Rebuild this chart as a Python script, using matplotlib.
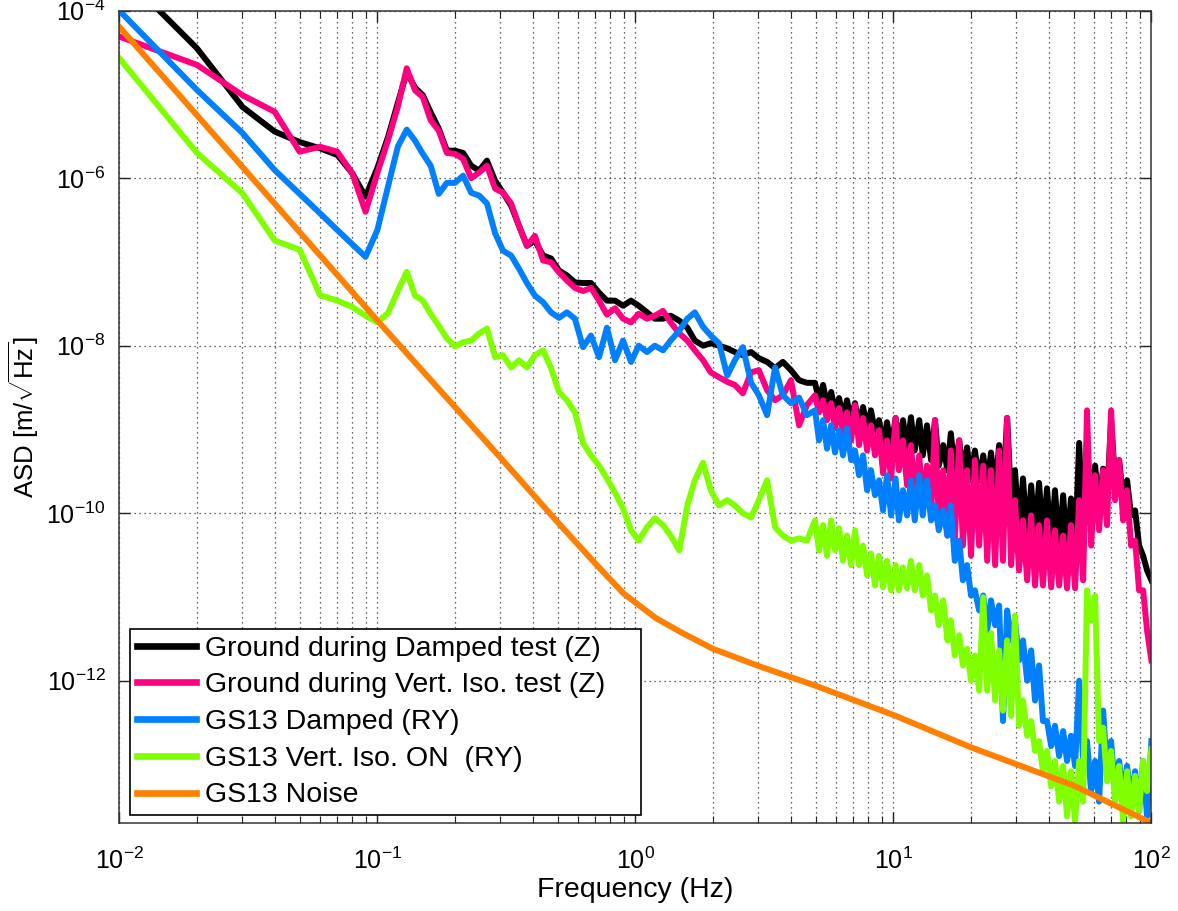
import numpy as np
import matplotlib
matplotlib.use("Agg")
import matplotlib.pyplot as plt
from matplotlib.ticker import LogLocator, NullLocator, FixedLocator, LogFormatterSciNotation

plt.rcParams['font.family'] = ['Liberation Sans', 'DejaVu Sans']
plt.rcParams['mathtext.fontset'] = 'custom'
plt.rcParams['mathtext.rm'] = 'Liberation Sans'
plt.rcParams['mathtext.it'] = 'Liberation Sans:italic'
plt.rcParams['mathtext.bf'] = 'Liberation Sans:bold'

# ---- frequency axis (Hz) ----
freq_low = [0.01, 0.02, 0.03, 0.04, 0.05, 0.06, 0.07, 0.08, 0.09, 0.10, 0.11, 0.12, 0.13]
freq_mid = [0.140, 0.150, 0.161, 0.173, 0.186, 0.200, 0.215, 0.231, 0.248, 0.266,
            0.286, 0.307, 0.330, 0.354, 0.380, 0.408, 0.439, 0.471, 0.506, 0.543,
            0.583, 0.627, 0.673, 0.723, 0.776, 0.834, 0.896, 0.962, 1.03, 1.11,
            1.19, 1.28, 1.37, 1.48, 1.59, 1.70, 1.83, 1.96, 2.11, 2.27,
            2.43, 2.61, 2.81, 3.01, 3.24, 3.48, 3.73, 4.01, 4.31, 4.62]
freq_high = [4.97, 5.15, 5.34, 5.53, 5.74, 5.94, 6.16, 6.38, 6.61, 6.86,
             7.10, 7.36, 7.63, 7.91, 8.19, 8.49, 8.80, 9.12, 9.45, 9.80,
             10.2, 10.5, 10.9, 11.3, 11.7, 12.1, 12.6, 13.0, 13.5, 14.0,
             14.5, 15.0, 15.6, 16.2, 16.7, 17.3, 18.0, 18.6, 19.3, 20.0,
             20.7, 21.5, 22.3, 23.1, 23.9, 24.8, 25.7, 26.6, 27.6, 28.6,
             29.6, 30.7, 31.8, 33.0, 34.2, 35.4, 36.7, 38.0, 39.4, 40.9,
             42.3, 43.9, 45.5, 47.1, 48.8, 50.6, 52.5, 54.4, 56.3, 58.4,
             60.5, 62.7, 65.0, 67.3, 69.8, 72.3, 75.0, 77.7, 80.5, 83.4,
             86.5, 89.6, 92.9, 96.2, 100.0]

# ---- ASD [m/sqrt(Hz)] ----
ground_damped = [
    3.0e-4, 3.55e-5, 7.1e-6, 3.6e-6, 2.7e-6, 2.27e-6, 1.89e-6, 1.14e-6, 6.0e-7, 1.32e-6, 3.1e-6, 7.9e-6, 1.85e-5,
    1.2e-5, 9.8e-6, 6.1e-6, 3.9e-6, 2.13e-6, 2.13e-6, 2.0e-6, 1.41e-6, 1.23e-6, 1.62e-6,
    9.3e-7, 6.7e-7, 4.7e-7, 2.7e-7, 1.56e-7, 1.79e-7, 1.19e-7, 1.1e-7, 7.9e-8, 6.9e-8,
    5.7e-8, 5.6e-8, 5.6e-8, 4.3e-8, 3.45e-8, 3.45e-8, 3.0e-8, 3.45e-8, 3.0e-8, 2.5e-8,
    2.1e-8, 2.1e-8, 2.28e-8, 1.99e-8, 1.64e-8, 1.15e-8, 1.0e-8, 1.07e-8, 1.0e-8, 9.3e-9,
    8.4e-9, 7.7e-9, 8.4e-9, 7.1e-9, 6.4e-9, 5.4e-9, 6.4e-9, 5.1e-9, 3.87e-9, 3.6e-9,
    3.6e-9, 2.23e-9, 3.4e-9, 1.95e-9, 2.8e-9, 1.6e-9, 2.37e-9, 1.37e-9, 2.23e-9, 1.29e-9,
    2.06e-9, 1.12e-9, 1.85e-9, 1.03e-9, 1.69e-9, 9.3e-10, 1.29e-9, 6.5e-10, 1.22e-9, 5.9e-10,
    1.37e-9, 6.5e-10, 1.29e-9, 5.6e-10, 1.4e-9, 5.6e-10, 1.29e-9, 4.9e-10, 1.12e-9, 4.3e-10,
    1.29e-9, 3.7e-10, 6.5e-10, 3.26e-10, 9.0e-10, 3.26e-10, 7.4e-10, 2.84e-10, 6.1e-10, 2.47e-10,
    5.6e-10, 2.47e-10, 4.9e-10, 2.15e-10, 5.3e-10, 1.88e-10, 6.5e-10, 1.64e-10, 1.37e-9, 1.43e-10,
    3.26e-10, 6.25e-11, 2.6e-10, 4.7e-11, 2.15e-10, 5.4e-11, 2.3e-10, 4.7e-11, 1.98e-10, 4.1e-11,
    1.88e-10, 3.8e-11, 1.64e-10, 3.6e-11, 1.5e-10, 3.6e-11, 6.9e-10, 4.7e-11, 7.4e-10, 8.2e-11,
    3.7e-10, 1.24e-10, 3.4e-10, 1.43e-10, 1.29e-9, 2.47e-10, 4.3e-10, 1.43e-10, 2.47e-10, 9.4e-11,
    1.08e-10, 4.1e-11, 3.1e-11, 2.08e-11, 1.58e-11]

ground_vert_iso = [
    4.9e-5, 2.25e-5, 9.8e-6, 6.2e-6, 2.07e-6, 2.37e-6, 2.07e-6, 1.14e-6, 3.97e-7, 1.15e-6, 2.85e-6, 7.1e-6, 2.05e-5,
    1.12e-5, 9.3e-6, 4.9e-6, 3.7e-6, 2.0e-6, 1.95e-6, 1.7e-6, 1.0e-6, 1.17e-6, 1.41e-6,
    7.5e-7, 6.7e-7, 5.0e-7, 2.7e-7, 1.56e-7, 2.05e-7, 1.04e-7, 9.9e-8, 7.5e-8, 6.0e-8,
    4.9e-8, 4.5e-8, 4.9e-8, 3.45e-8, 2.35e-8, 2.8e-8, 2.1e-8, 1.9e-8, 2.4e-8, 2.1e-8,
    2.28e-8, 2.6e-8, 1.9e-8, 1.4e-8, 1.15e-8, 8.8e-9, 6.7e-9, 4.8e-9, 4.2e-9, 3.7e-9,
    3.4e-9, 2.7e-9, 4.8e-9, 5.1e-9, 2.94e-9, 2.23e-9, 2.56e-9, 3.87e-9, 1.12e-9, 1.95e-9,
    2.56e-9, 1.6e-9, 2.23e-9, 1.29e-9, 2.06e-9, 1.03e-9, 1.8e-9, 9.3e-10, 1.6e-9, 7.4e-10,
    1.95e-9, 6.5e-10, 1.37e-9, 5.6e-10, 1.12e-9, 4.9e-10, 9.8e-10, 3.0e-10, 7.4e-10, 2.6e-10,
    1.37e-9, 3.26e-10, 7.4e-10, 2.15e-10, 6.5e-10, 1.64e-10, 4.9e-10, 1.24e-10, 3.7e-10, 9.4e-11,
    1.29e-9, 8.2e-11, 3.26e-10, 5.4e-11, 5.6e-10, 4.7e-11, 7.4e-10, 4.1e-11, 3.26e-10, 3.1e-11,
    4.3e-10, 4.1e-11, 3.7e-10, 2.7e-11, 3.26e-10, 2.4e-11, 5.6e-10, 2.7e-11, 1.37e-9, 2.4e-11,
    1.43e-10, 2.08e-11, 8.2e-11, 1.58e-11, 9.4e-11, 1.37e-11, 7.2e-11, 1.37e-11, 8.2e-11, 1.3e-11,
    6.25e-11, 1.37e-11, 5.4e-11, 1.27e-11, 7.2e-11, 1.27e-11, 1.43e-10, 1.58e-11, 1.69e-9, 4.1e-11,
    2.84e-10, 6.25e-11, 3.26e-10, 7.2e-11, 1.69e-9, 1.43e-10, 4.3e-10, 8.2e-11, 1.88e-10, 4.1e-11,
    4.7e-11, 1.2e-11, 1.2e-11, 4.0e-12, 1.75e-12]

gs13_damped = [
    1.0e-4, 1.13e-5, 3.46e-6, 1.25e-6, 6.5e-7, 3.8e-7, 2.4e-7, 1.62e-7, 1.15e-7, 2.4e-7, 7.9e-7, 2.37e-6, 3.8e-6,
    2.8e-6, 1.95e-6, 1.41e-6, 6.5e-7, 8.8e-7, 8.8e-7, 1.07e-6, 6.7e-7, 6.2e-7, 5.0e-7,
    2.2e-7, 1.36e-7, 1.19e-7, 8.3e-8, 5.6e-8, 3.96e-8, 3.3e-8, 2.5e-8, 2.15e-8, 2.5e-8,
    2.1e-8, 9.6e-9, 1.32e-8, 7.3e-9, 1.64e-8, 6.7e-9, 1.15e-8, 6.4e-9, 1.0e-8, 8.4e-9,
    1.0e-8, 8.8e-9, 1.15e-8, 1.51e-8, 2.1e-8, 2.5e-8, 1.68e-8, 1.32e-8, 1.07e-8, 4.4e-9,
    6.7e-9, 9.6e-9, 3.6e-9, 2.56e-9, 1.48e-9, 5.5e-9, 2.56e-9, 2.06e-9, 2.4e-9, 1.48e-9,
    1.69e-9, 7.4e-10, 1.29e-9, 5.9e-10, 1.12e-9, 5.3e-10, 9.8e-10, 4.9e-10, 1.03e-9, 4.3e-10,
    5.6e-10, 2.84e-10, 4.9e-10, 1.88e-10, 3.26e-10, 1.64e-10, 2.47e-10, 1.08e-10, 2.84e-10, 9.4e-11,
    2.6e-10, 8.2e-11, 1.88e-10, 9.4e-11, 2.47e-10, 8.2e-11, 2.84e-10, 9.4e-11, 2.47e-10, 8.2e-11,
    1.24e-10, 6.25e-11, 1.08e-10, 5.4e-11, 1.24e-10, 2.7e-11, 4.7e-11, 1.58e-11, 2.4e-11, 1.04e-11,
    1.2e-11, 6.9e-12, 1.04e-11, 4.0e-12, 9.1e-12, 4.6e-12, 7.9e-12, 3.3e-13, 6.9e-12, 3.03e-12,
    5.25e-12, 1.75e-12, 3.03e-12, 1.0e-12, 2.3e-12, 5.8e-13, 1.52e-12, 3.3e-13, 3.3e-13, 1.66e-13,
    2.9e-13, 1.26e-13, 2.5e-13, 1.1e-13, 2.2e-13, 9.6e-14, 1.0e-12, 1.1e-13, 1.9e-13, 4.8e-14,
    1.1e-13, 3.6e-14, 4.4e-13, 8.3e-14, 1.9e-13, 4.8e-14, 1.1e-13, 4.2e-14, 9.6e-14, 3.6e-14,
    8.3e-14, 2.8e-14, 1.1e-13, 2.4e-14, 1.9e-13]

gs13_vert_iso = [
    2.7e-5, 2.0e-6, 6.6e-7, 1.8e-7, 1.4e-7, 4.0e-8, 3.45e-8, 2.9e-8, 2.28e-8, 1.9e-8, 2.45e-8, 4.5e-8, 7.6e-8,
    3.96e-8, 3.45e-8, 2.4e-8, 1.73e-8, 1.22e-8, 9.8e-9, 1.1e-8, 1.15e-8, 1.4e-8, 1.6e-8,
    7.3e-9, 7.7e-9, 5.5e-9, 6.7e-9, 5.5e-9, 7.7e-9, 8.8e-9, 5.4e-9, 2.8e-9, 2.23e-9,
    1.6e-9, 6.9e-10, 4.9e-10, 3.7e-10, 2.6e-10, 1.75e-10, 1.14e-10, 6.25e-11, 4.7e-11, 6.8e-11,
    8.7e-11, 7.2e-11, 5.4e-11, 3.6e-11, 1.24e-10, 2.47e-10, 4.0e-10, 1.88e-10, 1.24e-10, 1.43e-10,
    1.24e-10, 1.0e-10, 8.9e-11, 1.43e-10, 2.47e-10, 6.8e-11, 5.4e-11, 4.7e-11, 5.0e-11, 4.7e-11,
    8.2e-11, 3.6e-11, 7.2e-11, 3.1e-11, 8.2e-11, 3.6e-11, 6.6e-11, 2.7e-11, 5.4e-11, 2.4e-11,
    6.25e-11, 2.4e-11, 4.1e-11, 1.81e-11, 3.3e-11, 1.37e-11, 3.1e-11, 1.3e-11, 2.7e-11, 1.2e-11,
    2.4e-11, 1.2e-11, 2.25e-11, 1.27e-11, 2.7e-11, 1.2e-11, 2.4e-11, 1.04e-11, 1.81e-11, 6.9e-12,
    1.04e-11, 4.6e-12, 9.1e-12, 3.03e-12, 5.25e-12, 2.0e-12, 3.5e-12, 1.52e-12, 2.4e-12, 1.0e-12,
    2.0e-12, 7.6e-13, 9.9e-12, 7.6e-13, 3.7e-12, 5.8e-13, 2.3e-12, 4.4e-13, 3.03e-12, 3.8e-13,
    6.0e-12, 2.9e-13, 5.8e-13, 2.2e-13, 3.3e-13, 1.45e-13, 1.9e-13, 8.3e-14, 1.45e-13, 5.5e-14,
    1.1e-13, 3.6e-14, 9.6e-14, 2.4e-14, 8.3e-14, 2.1e-14, 1.1e-13, 3.6e-14, 1.2e-11, 5.25e-12,
    1.04e-11, 1.9e-13, 2.75e-13, 6.3e-14, 1.45e-13, 3.6e-14, 9.6e-14, 2.1e-14, 8.3e-14, 2.4e-14,
    7.3e-14, 2.8e-14, 1.1e-13, 4.8e-14, 1.53e-13]

noise_freq = [0.01, 0.1, 0.3, 0.5, 0.7, 0.9, 1.2, 1.5, 2.0, 3.0, 5.0, 10.0, 20.0, 50.0, 100.0]
gs13_noise = [6.4e-5, 2.0e-8, 4.6e-10, 7.8e-11, 2.5e-11, 1.1e-11, 5.6e-12, 3.8e-12,
              2.4e-12, 1.5e-12, 8.7e-13, 3.9e-13, 1.6e-13, 5.6e-14, 2.0e-14]

labels = ['Ground during Damped test (Z)',
          'Ground during Vert. Iso. test (Z)',
          'GS13 Damped (RY)',
          'GS13 Vert. Iso. ON  (RY)',
          'GS13 Noise']
colors = ['#000000', '#FF0080', '#0080FF', '#80FF00', '#FF8000']

freq = np.concatenate([freq_low, freq_mid, freq_high])

fig = plt.figure(figsize=(11.78, 9.11), dpi=100)
ax = fig.add_axes([0.1013, 0.0966, 0.8761, 0.8917])

lw = 4.3
series = [ground_damped, ground_vert_iso, gs13_damped, gs13_vert_iso]
for vals, lab, col in zip(series, labels[:4], colors[:4]):
    ax.loglog(freq, vals, color=col, lw=lw, label=lab)
ax.loglog(noise_freq, gs13_noise, color=colors[4], lw=lw, label=labels[4])

ax.set_xlim(1e-2, 1e2)
ax.set_ylim(2e-14, 1e-4)

ax.xaxis.set_major_locator(LogLocator(base=10, numticks=10))
ax.xaxis.set_minor_locator(LogLocator(base=10, subs=np.arange(2, 10), numticks=20))
ax.yaxis.set_major_locator(FixedLocator([1e-12, 1e-10, 1e-8, 1e-6, 1e-4]))
ax.yaxis.set_major_formatter(LogFormatterSciNotation())
ax.yaxis.set_minor_locator(NullLocator())

grid_style = dict(linestyle=(0, (1, 3)), linewidth=0.9, color='#333333')
ax.grid(True, which='major', axis='both', **grid_style)
ax.grid(True, which='minor', axis='x', **grid_style)
ax.set_axisbelow(True)

ax.tick_params(which='both', direction='in', top=True, right=True,
               labelsize=18, color='#222222')
ax.tick_params(which='major', length=8, width=1.0)
ax.tick_params(which='minor', length=5, width=0.8)
ax.tick_params(axis='x', which='major', pad=18)
ax.tick_params(axis='y', which='major', pad=10)
for sp in ax.spines.values():
    sp.set_color('#333333')
    sp.set_linewidth(1.1)

ax.set_xlabel('Frequency (Hz)', fontsize=20.5, labelpad=2)
ax.set_ylabel(r'ASD [m/$\sqrt{\mathrm{Hz}}$]', fontsize=18.5, labelpad=4)

# legend box spans a fixed width in the lower-left corner
leg = ax.legend(loc='lower left', bbox_to_anchor=(0.0104, 0.0098, 0.4953, 0.0),
                mode='expand', borderaxespad=0,
                fontsize=20.5, frameon=True, fancybox=False, framealpha=1,
                edgecolor='black', handlelength=2.1, handletextpad=0.3,
                labelspacing=0.375, borderpad=0.23)
leg.get_frame().set_linewidth(1.2)
for line in leg.get_lines():
    line.set_linewidth(4.8)

fig.savefig('out.png', dpi=100)
